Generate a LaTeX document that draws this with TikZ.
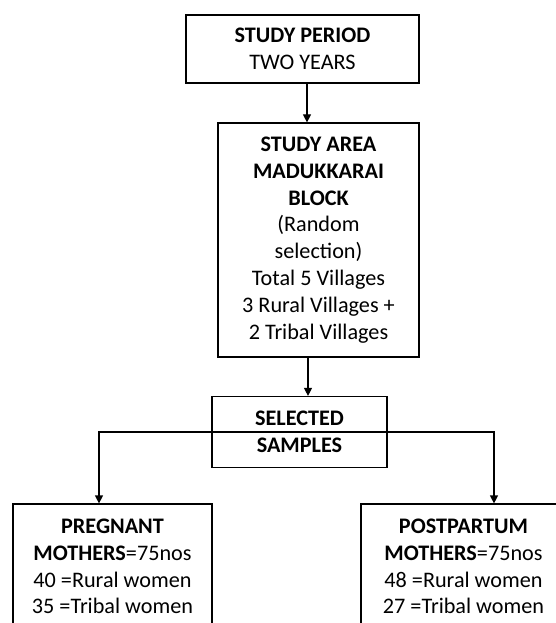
\documentclass[tikz,border=0pt]{standalone}
\usepackage{fontspec}
\setmainfont{Carlito}
\usetikzlibrary{arrows.meta}
\begin{document}
\begin{tikzpicture}[x=1pt,y=-1pt,
  box/.style={draw, line width=1.2pt, inner sep=0pt, align=center,
    font=\fontsize{22.2}{26.8}\selectfont},
  arr/.style={-{Triangle[length=8pt,width=8pt]}, line width=1.2pt}]
\useasboundingbox (0,0) rectangle (555,623);
\node[box, minimum width=233pt, minimum height=68pt] (period) at (302.5,49)
  {\textbf{STUDY PERIOD}\\TWO YEARS};
\node[box, minimum width=201pt, minimum height=234pt] (area) at (318.5,240)
  {\textbf{STUDY AREA}\\\textbf{MADUKKARAI}\\\textbf{BLOCK}\\(Random\\selection)\\Total 5 Villages\\3 Rural Villages +\\2 Tribal Villages};
\node[box, minimum width=175pt, minimum height=71pt] (sel) at (299.5,432)
  {\textbf{SELECTED}\\\textbf{SAMPLES}};
\node[box, minimum width=199pt, minimum height=125pt] (preg) at (112.5,566.5)
  {\textbf{PREGNANT}\\\textbf{MOTHERS}=75nos\\40 =Rural women\\35 =Tribal women};
\node[box, minimum width=205pt, minimum height=125pt] (post) at (463.5,566.5)
  {\textbf{POSTPARTUM}\\\textbf{MOTHERS}=75nos\\48 =Rural women\\27 =Tribal women};
\coordinate (c1) at (307,0);
\coordinate (c2) at (308,0);
\coordinate (cl) at (99,0);
\coordinate (cr) at (494,0);
\draw[arr] (period.south -| c1) -- (area.north -| c1);
\draw[arr] (area.south -| c2) -- (sel.north -| c2);
\draw[arr] (sel.center) -| (preg.north -| cl);
\draw[arr] (sel.center) -| (post.north -| cr);
\end{tikzpicture}
\end{document}
